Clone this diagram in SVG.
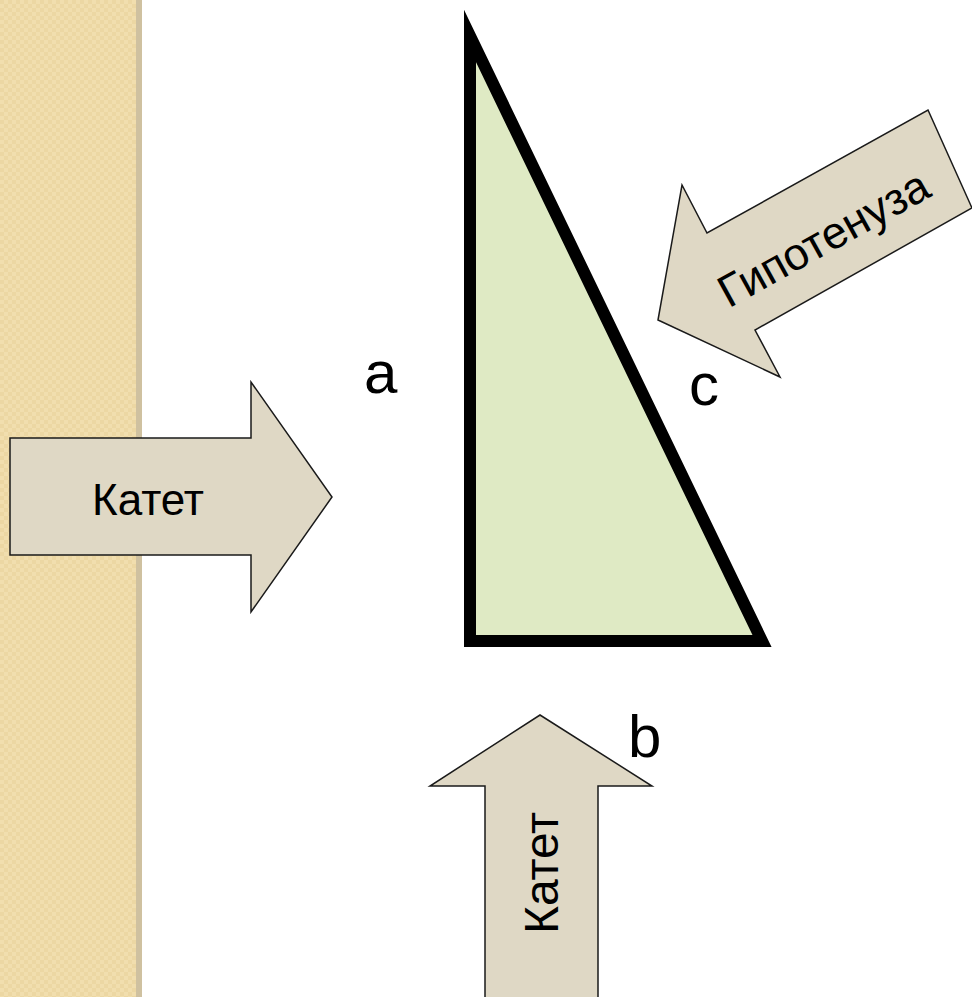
<svg xmlns="http://www.w3.org/2000/svg" width="972" height="997" viewBox="0 0 972 997">
  <defs>
    <pattern id="weave" width="8" height="8" patternUnits="userSpaceOnUse">
      <rect width="8" height="8" fill="#F1DEAE"/>
      <rect x="0" y="0" width="4" height="4" fill="#ECD7A3"/>
      <rect x="4" y="4" width="4" height="4" fill="#ECD7A3"/>
    </pattern>
  </defs>
  <style>
    .arrow { fill: #DFD8C5; stroke: #1a1a1a; stroke-width: 1.5; stroke-linejoin: miter; }
    .lbl { font-family: "Liberation Sans", Arial, sans-serif; fill: #000; }
    .big { font-size: 60px; }
    .arr-text { font-size: 45px; text-anchor: middle; }
  </style>
  <rect x="0" y="0" width="972" height="997" fill="#FFFFFF"/>
  <g id="stripe">
    <rect x="0" y="0" width="137" height="997" fill="url(#weave)"/>
    <rect x="136" y="0" width="6" height="997" fill="#CFC1A0"/>
  </g>
  <g id="triangle">
    <polygon points="470,36 470,641 762,641" fill="#DFEAC4" stroke="#000" stroke-width="12" stroke-linejoin="miter" stroke-miterlimit="10"/>
  </g>
  <g id="label-a"><text class="lbl big" x="364" y="393">a</text></g>
  <g id="label-c"><text class="lbl big" x="689" y="405">c</text></g>
  <g id="label-b"><text class="lbl big" x="628" y="757">b</text></g>
  <g id="connectors">
    <g id="arrow-left">
      <polygon class="arrow" points="10,438 251,438 251,382 332,497 251,612 251,555 10,555"/>
      <text class="lbl arr-text" x="148" y="515" style="font-size:44px">Катет</text>
    </g>
    <g id="arrow-bottom">
      <polygon class="arrow" points="540,715 652,786 598,786 598,1005 485,1005 485,786 430,786"/>
      <text class="lbl arr-text" transform="translate(558,873) rotate(-90)" x="0" y="0" style="font-size:48px">Катет</text>
    </g>
    <g id="arrow-hyp">
      <polygon class="arrow" points="658,320 682,185 707,233 928,110 972,208 755,330 780,377"/>
      <text class="lbl arr-text" transform="translate(831,252) rotate(-29)" x="0" y="0">Гипотенуза</text>
    </g>
  </g>
</svg>
